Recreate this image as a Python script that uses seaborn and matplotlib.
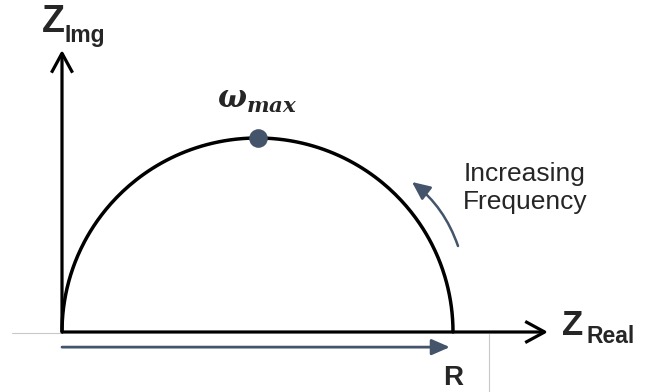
import numpy as np
import matplotlib
matplotlib.use("Agg")
import matplotlib.pyplot as plt
import seaborn as sns
import pandas as pd

# Simple RC element: Nyquist plot of Z = R / (1 + j*omega*tau)
R_OHM = 100.0
TAU = 1.0
omega = np.logspace(-4, 4, 600)

z = R_OHM / (1 + 1j * omega * TAU)
nyquist = pd.DataFrame({"z_real": z.real, "z_img": -z.imag, "omega": omega})

omega_max = 1.0 / TAU
z_peak = R_OHM / (1 + 1j * omega_max * TAU)
peak = pd.DataFrame({"z_real": [z_peak.real], "z_img": [-z_peak.imag]})

axis_x_end = 124.3
axis_y_end = 72.7

labels = {
    "x_main": "Z", "x_sub": "Real",
    "y_main": "Z", "y_sub": "Img",
    "peak": r"$\omega_{max}$",
    "resistance": "R",
    "direction": "Increasing\nFrequency",
}

ACCENT = "#44546A"

sns.set_theme(style="white")
plt.rcParams["font.family"] = ["Liberation Sans", "DejaVu Sans"]
# bold-italic serif for the math label
plt.rcParams["mathtext.fontset"] = "custom"
plt.rcParams["mathtext.it"] = "DejaVu Serif:italic:bold"
plt.rcParams["mathtext.rm"] = "DejaVu Serif:bold"

fig = plt.figure(figsize=(6.53, 3.92), dpi=100)
ax = fig.add_axes([0, 0, 1, 1])

# pixel -> data helpers for the layout
SX, SY = 3.91, 3.88
X0, Y0 = 62, 332
def px(x, y):
    return (x - X0) / SX, (Y0 - y) / SY

ax.set_xlim(px(0, 0)[0], px(653, 0)[0])
ax.set_ylim(px(0, 392)[1], px(0, 0)[1])
ax.axis("off")

# faint page guides
gx, gy = zip(px(12, 333), px(62, 333))
ax.plot(gx, gy, color="#c8c8c8", lw=0.8)
gx, gy = zip(px(489, 334), px(489, 392))
ax.plot(gx, gy, color="#c8c8c8", lw=0.8)

# axes with open arrowheads
axis_style = dict(arrowstyle="->,head_length=0.7,head_width=0.38",
                  color="black", lw=2.3, mutation_scale=20,
                  shrinkA=0, shrinkB=0, capstyle="butt")
ax.annotate("", xy=(axis_x_end, 0), xytext=(0, 0), arrowprops=axis_style)
ax.annotate("", xy=(0, axis_y_end), xytext=(0, 0), arrowprops=axis_style)

# semicircle
sns.lineplot(data=nyquist, x="z_real", y="z_img", sort=False,
             color="black", lw=2.5, ax=ax, legend=False)

# peak frequency marker
sns.scatterplot(data=peak, x="z_real", y="z_img", s=180, color=ACCENT,
                edgecolor=ACCENT, linewidth=0, zorder=5, ax=ax, legend=False)

# resistance arrow under the real axis
r_offset = -3.9
ax.annotate("", xy=(R_OHM * 0.992, r_offset), xytext=(0, r_offset),
            arrowprops=dict(arrowstyle="-|>,head_length=0.55,head_width=0.24",
                            color=ACCENT, lw=2.0, mutation_scale=20,
                            shrinkA=0, shrinkB=0))

# increasing-frequency curved arrow
ax.annotate("", xy=px(412, 182), xytext=px(458, 246),
            arrowprops=dict(arrowstyle="-|>,head_length=0.55,head_width=0.25",
                            color=ACCENT, lw=1.8, mutation_scale=20,
                            shrinkA=0, shrinkB=0,
                            connectionstyle="arc3,rad=0.15"))

# text
ax.text(*px(42, 32), labels["y_main"], fontsize=27, fontweight="bold",
        ha="left", va="baseline")
ax.text(*px(64, 42), labels["y_sub"], fontsize=16.5, fontweight="bold",
        ha="left", va="baseline")
ax.text(*px(562, 335), labels["x_main"], fontsize=25, fontweight="bold",
        ha="left", va="baseline")
ax.text(*px(586, 343), labels["x_sub"], fontsize=16.5, fontweight="bold",
        ha="left", va="baseline")
ax.text(*px(453, 385), labels["resistance"], fontsize=20, fontweight="bold",
        ha="center", va="baseline")
ax.text(*px(257, 100), labels["peak"], fontsize=22,
        ha="center", va="center")
ax.text(*px(525, 188), labels["direction"], fontsize=19,
        ha="center", va="center", linespacing=1.25, color="#262626")

fig.savefig("out.png", dpi=100)
